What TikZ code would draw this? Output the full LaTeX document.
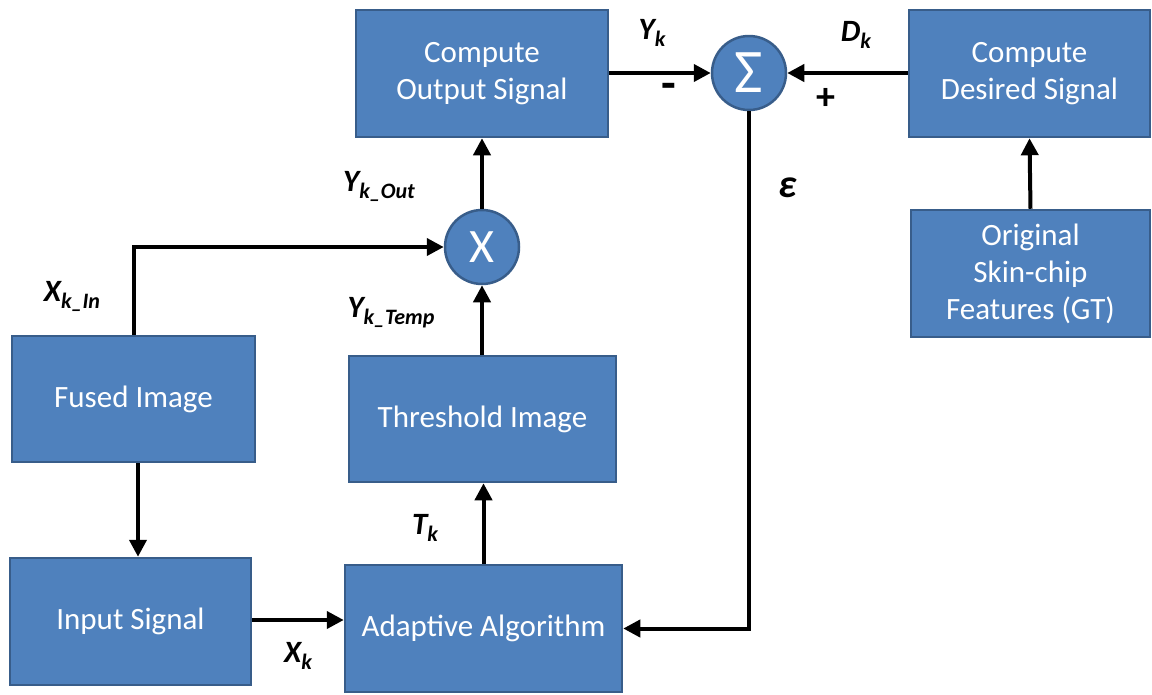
\documentclass[tikz,border=0pt]{standalone}
\usepackage{fontspec}
\setmainfont{Carlito}
\usetikzlibrary{arrows.meta,calc}
\definecolor{boxfill}{HTML}{4F81BD}
\definecolor{boxline}{HTML}{385D8A}
% signal label: main letter with a lowered subscript, bold italic
\newcommand{\siglab}[2]{\textbf{\textit{#1\raisebox{-7pt}{\fontsize{22}{24}\selectfont #2}}}}
\tikzset{
  blockbox/.style={draw=boxline, line width=2.5pt, fill=boxfill, text=white,
    inner sep=0pt, align=center, font=\fontsize{31}{37}\selectfont},
  opcircle/.style={circle, draw=boxline, line width=2.5pt, fill=boxfill, text=white,
    inner sep=0pt, minimum size=74pt},
  arr/.style={line width=4pt, -{Triangle[length=17pt,width=17pt]}},
  siglabel/.style={font=\fontsize{31}{34}\selectfont, text=black, inner sep=0pt},
  signlabel/.style={font=\fontsize{38}{38}\selectfont\bfseries, text=black, inner sep=0pt}
}
\begin{document}
\begin{tikzpicture}[x=1pt,y=-1pt]
\useasboundingbox (0,0) rectangle (1152,694);

% processing blocks
\node[blockbox, minimum width=252pt, minimum height=127pt] (out) at (482,73.5) {Compute\\Output Signal};
\node[blockbox, minimum width=241pt, minimum height=127pt] (des) at (1029.5,73.5) {Compute\\Desired Signal};
\node[blockbox, minimum width=239pt, minimum height=127pt] (orig) at (1030.5,273.5) {Original\\Skin-chip\\Features (GT)};
\node[blockbox, minimum width=243pt, minimum height=126pt] (fused) at (133.5,399) {Fused Image};
\node[blockbox, minimum width=267pt, minimum height=126pt] (thr) at (482.5,419) {Threshold Image};
\node[blockbox, minimum width=241pt, minimum height=127pt] (inp) at (130.5,621.5) {Input Signal};
\node[blockbox, minimum width=277pt, minimum height=127pt] (adapt) at (483.5,628.5) {Adaptive Algorithm};

% summing junction and multiplier
\node[opcircle] (sum) at (749,73) {\fontsize{62}{62}\selectfont Σ};
\node[opcircle] (mult) at (482,247) {\fontsize{48}{48}\selectfont X};

% connectors
\draw[arr] (fused.north) |- (mult.west);
\draw[arr] ([xshift=4.5pt]fused.south) -- ([xshift=7.5pt]inp.north);
\draw[arr] ([yshift=1.5pt]inp.east) -- ([yshift=1.5pt]inp.east -| adapt.west);
\draw[arr] (adapt.north) -- (adapt.north |- thr.south);
\draw[arr] (thr.north -| mult.south) -- (mult.south);
\draw[arr] (mult.north) -- (out.south);
\draw[arr] (out.east |- sum.west) -- (sum.west);
\draw[arr] (des.west |- sum.east) -- (sum.east);
\draw[arr] (sum.south) |- (adapt.east);
\draw[arr] (orig.north) -- (des.south);

% signal labels
\node[siglabel] (lyk) at (652,33) {\siglab{Y}{k}};
\node[signlabel, font=\fontsize{48}{48}\selectfont\bfseries] (lminus) at (669,91) {-};
\node[siglabel] (ldk) at (856,35) {\siglab{D}{k}};
\node[signlabel] (lplus) at (826,99) {+};
\node[siglabel] (leps) at (788,188) {\fontsize{40}{40}\selectfont\textbf{\textit{ε}}};
\node[siglabel] (lyout) at (379,186) {\siglab{Y}{k\_Out}};
\node[siglabel] (lxin) at (72,296) {\siglab{X}{k\_In}};
\node[siglabel] (lytemp) at (391,313) {\siglab{Y}{k\_Temp}};
\node[siglabel] (ltk) at (425,528) {\siglab{T}{k}};
\node[siglabel] (lxk) at (298,656) {\siglab{X}{k}};
\end{tikzpicture}
\end{document}
